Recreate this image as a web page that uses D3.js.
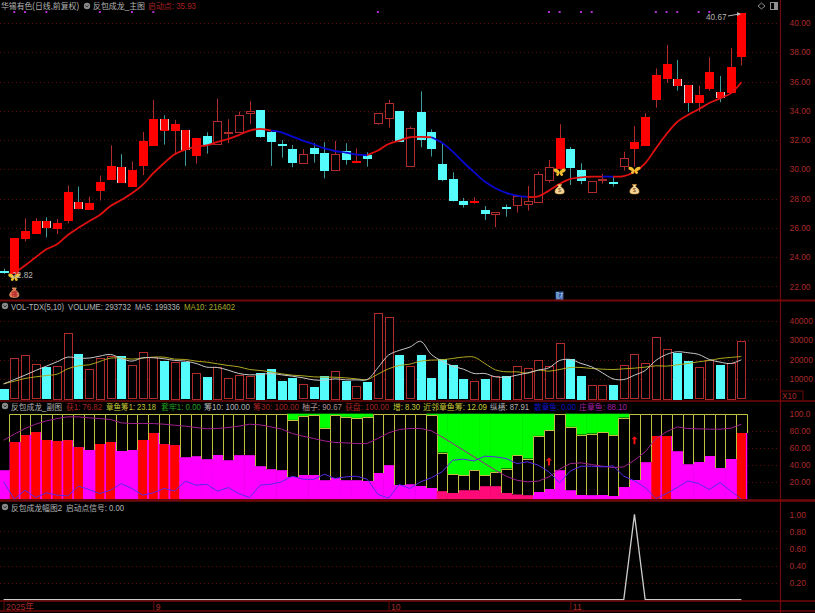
<!DOCTYPE html>
<html><head><meta charset="utf-8">
<style>html,body{margin:0;padding:0;background:#000;overflow:hidden}svg{display:block}
text{font-family:"Liberation Sans","Noto Sans CJK SC",sans-serif;font-size:8.2px}</style>
<script src="https://cdn.jsdelivr.net/npm/d3@7/dist/d3.min.js"></script></head><body>
<script>
// ---------- main panel values ----------
const bodyTop=[23.05,25.31,25.79,26.47,26.45,26.33,28.45,27.77,27.7,29.11,30.25,30.14,29.95,31.91,33.46,33.46,33.1,32.67,32.16,32.3,33.28,32.57,33.71,33.96,34.03,32.53,31.7,31.41,31.03,31.48,31.09,31.03,31.28,30.57,31.0,33.83,34.51,33.99,32.8,33.9,32.53,30.34,29.32,27.81,27.86,27.22,27.06,27.44,28.2,27.81,29.66,30.14,32.13,31.41,29.93,29.2,29.34,29.11,30.77,31.85,33.58,36.42,37.2,36.17,35.76,35.1,36.63,35.31,36.97,40.66];
const bodyBottom=[23.03,22.9,25.28,25.67,26.04,25.99,26.54,27.38,27.31,28.59,29.38,29.13,28.88,30.3,31.69,32.73,32.71,31.37,30.98,31.73,31.69,32.53,32.53,33.8,32.23,31.91,31.68,30.52,30.39,31.12,29.91,29.91,30.71,30.53,30.8,33.14,33.46,31.91,30.23,32.05,31.43,29.32,27.86,27.6,27.82,27.02,26.92,27.42,27.59,27.6,27.74,29.27,30.11,30.18,29.25,28.47,29.25,29.04,30.23,31.43,31.69,34.81,36.24,35.76,34.58,34.62,35.56,34.97,35.28,37.7];
const highs=[23.2,25.31,26.65,26.65,26.72,26.6,28.88,28.82,28.13,29.57,31.64,31.03,30.52,32.55,34.74,33.69,33.37,32.67,32.16,32.53,34.83,33.42,33.94,34.65,34.03,32.64,32.0,31.66,31.37,31.78,31.85,31.94,31.78,31.43,31.16,33.83,34.74,33.99,32.92,35.33,32.73,31.73,29.79,28.04,28.09,27.49,27.06,27.59,28.25,28.86,29.84,30.64,33.08,31.53,30.41,29.2,29.7,29.5,31.2,32.96,33.83,36.9,38.5,37.47,35.76,35.72,37.65,36.38,38.29,40.67];
const lows=[22.85,22.82,25.06,25.67,25.35,25.56,26.31,27.27,27.27,27.86,29.38,29.09,28.88,29.59,31.69,31.69,30.98,30.23,30.39,31.07,31.69,31.78,32.53,33.1,32.16,30.23,30.8,30.14,30.39,30.46,29.38,29.91,30.32,30.41,30.18,33.05,32.85,31.89,30.23,31.5,30.87,29.18,27.81,27.38,27.65,26.54,26.04,26.76,27.04,27.18,27.74,29.09,30.11,28.93,28.98,28.4,29.02,28.82,29.91,30.18,31.64,34.21,35.92,35.38,33.92,33.94,35.38,34.58,35.28,37.11];
const candleKind=["down","solid","solid","solid","mixed","solid","solid","mixed","solid","solid","solid","mixed","solid","solid","solid","mixed","solid","mixed","solid","down","hollow","hollow","hollow","hollow","down","down","down","down","hollow","down","down","hollow","down","solid","down","hollow","hollow","down","hollow","down","down","down","down","down","solid","down","hollow","down","hollow","hollow","hollow","hollow","solid","down","down","hollow","hollow","down","hollow","solid","solid","solid","solid","mixed","mixed","solid","solid","mixed","solid","solid"];
const trendLine=[null,22.9,23.42,23.98,24.53,24.87,25.51,26.0,26.45,26.88,27.49,27.9,28.36,28.93,29.73,30.41,31.03,31.34,31.55,31.64,31.87,32.07,32.34,32.64,32.76,32.64,32.53,32.23,31.96,31.71,31.43,31.25,31.14,31.0,30.96,31.28,31.73,31.96,32.19,32.21,32.19,31.82,31.21,30.48,29.8,29.16,28.7,28.39,28.2,28.11,28.15,28.54,29.0,29.34,29.45,29.5,29.5,29.5,29.54,29.82,30.41,31.43,32.41,33.23,33.71,34.1,34.53,34.85,35.19,35.95];
const trendFalling=[[25,34],[40,49],[56,57]];
const signalDots=[1,2,4,9,12,14,35,51,52,54,55,61,62,63,65,66];
const butterflyIdx=[1,52,59], butterflyPrice=[22.64,29.82,29.95];
const bagIdx=[1,52,59], bagPrice=[21.55,28.62,28.62];
const priceTicks=[22,24,26,28,30,32,34,36,38,40];
// ---------- volume panel values ----------
const volumes=[5150,20790,22340,17700,15980,16840,33850,22680,14950,20960,21820,21650,17180,23710,21300,19420,18900,18730,13230,11170,16320,10480,12200,11510,13400,14950,9280,10650,7390,5840,11860,14260,9280,6360,8590,43810,41920,22340,16670,22340,10650,20100,17010,9970,9110,10140,11860,11860,16840,15640,19930,16670,28350,20100,11860,7220,7220,7220,17180,22680,18210,31620,25430,23370,19240,16150,19930,17010,18380,29373];
const volumeUp=[0,1,1,1,0,1,1,0,1,1,1,0,1,1,1,0,1,0,1,0,1,1,1,1,0,0,0,0,1,0,0,1,0,1,0,1,1,0,1,0,0,0,0,0,1,0,1,0,1,1,1,1,1,0,0,1,1,0,1,1,1,1,1,0,0,1,1,0,1,1];
const ma5=[7560,9790,12030,14430,16670,18900,21310,20790,20790,21820,22680,20620,19240,20960,20960,20450,19590,19240,18040,16150,15980,14600,12890,12200,12370,12890,12200,11510,10650,9620,9450,10140,9620,9620,9790,15810,22340,24740,26460,29380,22680,19240,16670,15120,12890,12890,11170,11000,12030,13230,14600,15810,19590,20100,18040,16320,13230,10140,9790,12030,14430,19590,22680,24050,23540,22680,20100,18730,18040,19934];
const ma10=[7560,8930,10310,11170,11860,12540,15290,16840,17350,19070,20790,20790,20270,20790,21310,21310,20270,20100,19240,18730,17870,17010,16320,14950,14430,13750,12710,12030,11680,11170,11000,11000,10650,10140,9790,12540,15290,17010,17700,19240,19760,19930,20620,21310,21310,18040,14780,13750,13750,13060,14600,14090,14950,15980,15980,15460,15120,14950,15290,15640,16150,16840,16670,17350,18040,18900,19590,20620,21130,21640];
const volumeTicks=[10000,20000,30000,40000];
// ---------- chip panel values ----------
const chipLow=[33.9,66.7,74.9,78.4,69.4,68.2,69,60.8,57.7,65.1,67.4,56.5,57.7,69.4,77.6,64.3,63.2,49.1,50.3,46.8,52.2,45.6,51.5,51.5,38.6,35.1,33.9,26.1,28.5,28.5,22.2,25.3,22.2,22.2,21.4,30.8,39.8,16.8,17.5,15.6,13.3,9.4,7.4,10.5,10.5,15.2,15.2,7.8,5.5,4.7,9,12.5,33.9,10.5,5,4.7,5,3.9,14.8,23,43.3,74.1,74.1,56.1,40.9,43.7,51.1,36.6,47.6,77.6];
const chipTop=[100,100,100,100,100,100,100,100,100,100,100,100,100,100,100,100,100,100,100,100,100,100,100,100,100,100,100,92.8,97.5,98.2,83.4,98.2,96.3,95.1,96.3,100,100,100,100,100,98.6,54.6,29.2,28.1,33.9,28.1,32,35.9,51.5,47.6,74.1,80.7,100,84.6,75.6,76.8,78.4,75.2,95.5,100,100,100,100,100,100,100,100,100,100,100];
const redChip=[1,2,3,4,5,6,7,9,10,13,14,15,16,61,62,69];
const pinkChip=[41,42,43,44,45,46,47,48,49];
const chipPurple=[69,76,82.7,87.7,91.6,94.3,96.3,96.3,95.1,94.3,93.2,89.3,88.5,88.5,88.5,87.7,86.5,85.4,83.8,82.3,82.7,83.8,85.4,87.7,86.9,84.6,81.9,76.8,73.7,71,68.2,66.3,65.9,65.1,65.1,71,77.6,81.5,82.7,82.7,79.9,72.9,65.1,57.3,49.5,41.7,33.9,26.9,22.2,20.3,21.1,26.1,35.1,41.7,42.5,40.5,38.6,37,37.8,45.6,55.4,71,78.8,84.6,82.7,82.3,81.9,81.9,83,87.7];
const chipBlue=[20.3,0,10.5,1.9,7.4,4.7,3.9,15.2,11.3,6.6,10.5,18.3,12.5,4.7,7.4,12.5,9.7,21.1,16.4,17.5,9.4,13.6,6.6,1.9,16.4,17.5,20.3,26.9,23.4,23,29.2,24.2,26.1,26.9,23.4,5.8,1.2,17.2,12.5,20.3,25,32,45.6,46.8,44.8,50.3,49.5,47.6,41.7,43.7,39.8,32,19.1,33.1,38.6,38.6,37.8,39,26.9,21.4,13.6,0.8,6.6,13.6,21.4,18.3,11.3,19.5,9.7,0];
const arrowIdx=[51,59], arrowValue=[44,69];
const chipTicks=[20,40,60,80,100];
// ---------- signal panel values ----------
const signalIdx=[0,58,59,60,69], signalValue=[0,0,1,0,0];
const signalTicks=[0.2,0.4,0.6,0.8,1];
// ---------- text ----------
const dateIdx=[0,14,36,53], dateLabels=["2025年","9","10","11"];
const headerMain=["华锡有色(日线,前复权)","反包成龙_主图","启动点: 35.93"];
const headerVol=["VOL-TDX(5,10)","VOLUME: 293732","MA5: 199336","MA10: 216402"];
const headerChip=["反包成龙_副图","获1: 76.82","章鱼筹1: 23.18","套牢1: 0.00","筹10: 100.00","筹30: 100.00","柚子: 90.67","获盘: 100.00","增: 8.30","近邻章鱼筹: 12.09","纵横: 87.91","散章鱼: 0.00","庄章鱼: 88.10"];
const headerSignal=["反包成龙幅图2","启动点信号: 0.00"];

// ---------- layout ----------
const W=815,H=613,AX=780.5;
const RED="#ff0000",CYAN="#54fcfc",DIM="#b02c2c",CWICK="#3f9c9c",GRID="#5e0c0c",FRAME="#720808",AXTXT="#a82a2a",GRAY="#b4b4b4";
const svg=d3.select("body").append("svg").attr("width",W).attr("height",H).style("background","#000");
const x=d3.scaleLinear().domain([0,69]).range([3.6,741.4]);
const step=x(1)-x(0), bw=8;
const yP=d3.scaleLinear().domain([22,40]).range([286.3,23]);
const yV=d3.scaleLinear().domain([0,40000]).range([398.6,320.7]);
const yC=d3.scaleLinear().domain([0,100]).range([499.2,413.7]);
const yS=d3.scaleLinear().domain([0,1]).range([599.7,514.3]);
const idx=d3.range(70);
const px=v=>Math.round(v)+.5;

function grid(vals,y){
  svg.append("g").selectAll("line").data(vals).join("line")
    .attr("x1",0).attr("x2",AX).attr("y1",d=>px(y(d))).attr("y2",d=>px(y(d)))
    .attr("stroke",GRID).attr("stroke-dasharray","1 3");
}
function rAxis(vals,y,fmt){
  const g=svg.append("g").attr("transform",`translate(${AX},0)`)
    .call(d3.axisRight(y).tickValues(vals).tickSize(0).tickPadding(9).tickFormat(fmt));
  g.select(".domain").remove();
  g.selectAll("text").attr("fill",AXTXT).style("font-size","8.4px");
}
grid(priceTicks,yP); grid(volumeTicks,yV); grid(chipTicks.slice(0,4),yC); grid(signalTicks.slice(0,4),yS);

// ---------- candles ----------
const cg=svg.append("g");
cg.selectAll("line").data(idx).join("line")
  .attr("x1",i=>px(x(i))).attr("x2",i=>px(x(i))).attr("y1",i=>yP(highs[i])).attr("y2",i=>yP(lows[i]))
  .attr("stroke",i=>(candleKind[i]==="down"||candleKind[i]==="mixed")?CWICK:DIM);
cg.selectAll("rect").data(idx).join("rect")
  .attr("x",i=>px(x(i))-bw/2).attr("width",bw)
  .attr("y",i=>Math.round(yP(bodyTop[i]))+.5)
  .attr("height",i=>Math.max(1,Math.round(yP(bodyBottom[i])-yP(bodyTop[i]))))
  .attr("fill",i=>({solid:RED,mixed:RED,hollow:"#000",down:CYAN})[candleKind[i]])
  .attr("stroke",i=>({solid:RED,mixed:RED,hollow:DIM,down:CYAN})[candleKind[i]]);
// mixed candles carry pale side edges only
const mixedIdx=idx.filter(i=>candleKind[i]==="mixed");
[-bw/2,bw/2].forEach(off=>cg.append("g").selectAll("line").data(mixedIdx).join("line")
  .attr("x1",i=>px(x(i))+off).attr("x2",i=>px(x(i))+off)
  .attr("y1",i=>Math.round(yP(bodyTop[i]))).attr("y2",i=>Math.round(yP(bodyBottom[i]))+1)
  .attr("stroke","#d6d6d6"));

// trend line: one path per colour run
const tl=d3.line().x(i=>x(i)).y(i=>yP(trendLine[i])).curve(d3.curveCatmullRom);
const runs=[];let start=1;
trendFalling.forEach(([a,b])=>{runs.push([start,a,"#e01010"]);runs.push([a,b,"#0808d0"]);start=b;});
runs.push([start,69,"#e01010"]);
svg.append("g").selectAll("path").data(runs).join("path")
  .attr("d",r=>tl(d3.range(r[0],r[1]+1))).attr("fill","none").attr("stroke",r=>r[2]).attr("stroke-width",1.8);

// signal dots
svg.append("g").selectAll("rect").data(signalDots).join("rect")
  .attr("x",i=>x(i)-1).attr("y",11).attr("width",2).attr("height",2).attr("fill","#b030d0");
// butterflies
const wing="M0,0C-2,-4 -6,-4 -6,-2C-6,0 -3,1 -2,1C-4,1 -4,4 -2,4C-1,4 0,2 0,0C0,2 1,4 2,4C4,4 4,1 2,1C3,1 6,0 6,-2C6,-4 2,-4 0,0Z";
svg.append("g").selectAll("path").data(butterflyIdx).join("path")
  .attr("transform",(d,k)=>`translate(${x(d)},${yP(butterflyPrice[k])})`).attr("d",wing).attr("fill","#f0c030");
// money bags
const bag="M-2,-5L2,-5L1,-3C4,-1 5,1 4.5,3C4,5 -4,5 -4.5,3C-5,1 -4,-1 -1,-3Z";
const bg=svg.append("g").selectAll("g").data(bagIdx).join("g")
  .attr("transform",(d,k)=>`translate(${x(d)},${yP(bagPrice[k])})`);
bg.append("path").attr("d",bag).attr("fill",(d,k)=>k===0?"#e06a5a":"#f2d7a0").attr("stroke",(d,k)=>k===0?"#f0c060":"#e0a030").attr("stroke-width",.6);
bg.append("text").attr("y",3).attr("text-anchor","middle").style("font-size","6px").attr("fill",(d,k)=>k===0?"#a01010":"#805010").text((d,k)=>k===0?"福":"$");
// cai badge
const cai=svg.append("g").attr("transform",`translate(${x(52)},296)`);
cai.append("rect").attr("x",-4).attr("y",-4.5).attr("width",8).attr("height",9).attr("fill","#204a90");
cai.append("text").attr("y",3.2).attr("text-anchor","middle").style("font-size","8px").attr("fill","#b8d0f0").text("财");
// extremes
svg.append("text").attr("x",x(1)-2).attr("y",278).attr("fill",GRAY).text("22.82");
svg.append("text").attr("x",706).attr("y",20).attr("fill",GRAY).text("40.67");
svg.append("line").attr("x1",728).attr("x2",739).attr("y1",16).attr("y2",14).attr("stroke",GRAY);
svg.append("path").attr("d","M741,14L737,12L737,16Z").attr("fill",GRAY);

// ---------- volume ----------
const vg=svg.append("g");
vg.selectAll("rect").data(idx).join("rect")
  .attr("x",i=>px(x(i))-bw/2).attr("width",bw)
  .attr("y",i=>Math.round(yV(volumes[i]))+.5)
  .attr("height",i=>Math.round(yV(0)-yV(volumes[i])))
  .attr("fill",i=>volumeUp[i]?"#000":CYAN).attr("stroke",i=>volumeUp[i]?DIM:CYAN);
const lv=d3.line().x((d,i)=>x(i)).y(d=>yV(d)).curve(d3.curveCatmullRom);
svg.append("path").attr("d",lv(ma10)).attr("fill","none").attr("stroke","#b0a820").attr("stroke-width",1);
svg.append("path").attr("d",lv(ma5)).attr("fill","none").attr("stroke","#c8c8c8").attr("stroke-width",1);

// ---------- chip panel ----------
const ch=svg.append("g");
ch.selectAll("rect.g").data(idx.filter(i=>chipTop[i]<100)).join("rect").attr("class","g")
  .attr("x",i=>x(i)-step/2).attr("width",step+.5).attr("y",yC(100)).attr("height",i=>yC(chipTop[i])-yC(100)).attr("fill","#00ff00");
ch.selectAll("rect.m").data(idx).join("rect").attr("class","m")
  .attr("x",i=>x(i)-step/2).attr("width",step+.5).attr("y",i=>yC(chipLow[i])).attr("height",i=>yC(0)-yC(chipLow[i]))
  .attr("fill",i=>pinkChip.includes(i)?"#ff0a78":"#ff00ff");
ch.selectAll("rect.r").data(redChip).join("rect").attr("class","r")
  .attr("x",i=>x(i)-4.5).attr("width",9).attr("y",i=>yC(chipLow[i])).attr("height",i=>yC(0)-yC(chipLow[i])).attr("fill",RED);
ch.selectAll("path.b").data(idx).join("path").attr("class","b")
  .attr("d",i=>{
    const l=Math.round(x(i)-step/2)+.5,r=Math.round(x(i)+step/2)+.5,t=Math.round(yC(chipTop[i]))+.5,b=Math.round(yC(chipLow[i]));
    return `M${l},${b}L${l},${t}L${r},${t}L${r},${b}`;})
  .attr("fill","#000").attr("stroke",i=>i===0?"none":"#c0c040");
const lc=d3.line().x((d,i)=>x(i)).y(d=>yC(d));
svg.append("path").attr("d",lc(chipPurple)).attr("fill","none").attr("stroke","#a0208c").attr("stroke-width",1);
svg.append("path").attr("d",lc(chipBlue)).attr("fill","none").attr("stroke","#5a28e8").attr("stroke-width",1);
svg.append("g").selectAll("path").data(arrowIdx).join("path")
  .attr("transform",(d,k)=>`translate(${x(d)},${yC(arrowValue[k])})`)
  .attr("d","M0,-4L3,-1L1,-1L1,4L-1,4L-1,-1L-3,-1Z").attr("fill","#f01010");

// ---------- signal panel ----------
svg.append("path").attr("d",d3.line().x((d,k)=>x(signalIdx[k])).y(d=>yS(d))(signalValue))
  .attr("fill","none").attr("stroke","#cccccc").attr("stroke-width",1.3);

// ---------- frame ----------
[[300.5,2],[401,1.6],[500.5,2.4],[601,1.4],[611,1.4]].forEach(([y,w])=>
  svg.append("line").attr("x1",0).attr("x2",W).attr("y1",y).attr("y2",y).attr("stroke",FRAME).attr("stroke-width",w));
svg.append("line").attr("x1",AX).attr("x2",AX).attr("y1",0).attr("y2",H).attr("stroke",FRAME).attr("stroke-width",1.2);
svg.append("path").attr("d","M780.5,391H803V400").attr("fill","none").attr("stroke",FRAME);
svg.append("text").attr("x",782).attr("y",399).attr("fill",AXTXT).text("X10");

rAxis(priceTicks,yP,d3.format(".2f"));
rAxis(volumeTicks,yV,d3.format("d"));
rAxis(chipTicks,yC,d=>d===100?"100.0":d3.format(".2f")(d));
rAxis(signalTicks,yS,d3.format(".2f"));

// date axis
const da=svg.append("g").attr("transform","translate(0,600.6)")
  .call(d3.axisBottom(x).tickValues(dateIdx).tickSize(0).tickFormat((d,k)=>dateLabels[k]));
da.select(".domain").remove();
da.selectAll("text").attr("fill",AXTXT).attr("text-anchor","start").attr("dx",2).style("font-size","8.6px");
da.selectAll("line").attr("y1",1).attr("y2",10).attr("stroke",FRAME);

// ---------- headers ----------
function hdr(texts,xs,ws,cols,y){
  svg.append("g").selectAll("text").data(texts).join("text")
    .attr("x",(d,k)=>xs[k]).attr("y",y).attr("fill",(d,k)=>cols[k])
    .attr("textLength",(d,k)=>ws[k]).attr("lengthAdjust","spacingAndGlyphs").text(d=>d);
}
function dot(cx,cy){
  svg.append("circle").attr("cx",cx).attr("cy",cy).attr("r",3.2).attr("fill","#8a8a8a");
  svg.append("path").attr("d",`M${cx-1.6},${cy-.8}L${cx},${cy+1}L${cx+1.6},${cy-.8}`).attr("fill","none").attr("stroke","#222").attr("stroke-width",.8);
}
hdr(headerMain,[1,93,148],[78,52,48],[GRAY,GRAY,"#a82222"],9);
dot(87,6);
hdr(headerVol,[11,68,135,184],[53,63,45,51],[GRAY,GRAY,GRAY,"#a8a828"],309.5);
dot(5,306);
hdr(headerChip,[11,66,106,161,204,253,302,345,393,423,490,534,579],
    [51,36,50,40,46,46,40,44,27,64,39,42,48],
    [GRAY,"#b02222","#c8c838","#20a020",GRAY,"#a82222","#b09090","#a82222","#c8c838","#c8c838",GRAY,"#1414c0","#a020a0"],409.5);
dot(5,406);
hdr(headerSignal,[11,66],[51,58],[GRAY,GRAY],510.5);
dot(5,507);

// top-right icons
svg.append("path").attr("d","M761.5,3L765,6L761.5,9L758,6Z").attr("fill","none").attr("stroke","#909090");
svg.append("rect").attr("x",770.5).attr("y",2.5).attr("width",7).attr("height",7).attr("fill","none").attr("stroke","#909090");
svg.append("rect").attr("x",774).attr("y",3).attr("width",3).attr("height",6).attr("fill","#909090");
</script></body></html>
